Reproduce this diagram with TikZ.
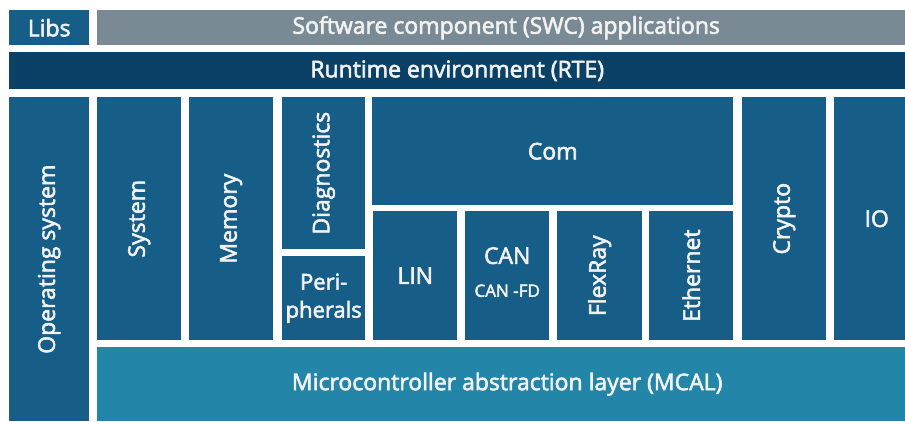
\documentclass[tikz,border=0pt]{standalone}
\usepackage{fontspec}
\setmainfont{Open Sans}[FakeBold=2.5]
\definecolor{modblue}{RGB}{22,94,135}
\definecolor{rteblue}{RGB}{11,65,102}
\definecolor{swcgray}{RGB}{122,138,148}
\definecolor{mcalblue}{RGB}{35,134,168}
\definecolor{txt}{RGB}{242,242,242}
\begin{document}
\begin{tikzpicture}[x=1pt,y=-1pt,
  blk/.style={fill=modblue,draw=none,inner sep=0pt,anchor=north west},
  lbl/.style={text=txt,font=\fontsize{23}{27}\selectfont,align=center,inner sep=0pt}]
\fill[white] (0,0) rectangle (905,421);
\useasboundingbox (0,0) rectangle (905,421);
% helper: block by corners
\newcommand{\blkbox}[6]{%
  \node[blk,fill=#6,minimum width={#3-#1},minimum height={#4-#2}] (#5) at (#1,#2) {};}
\blkbox{9}{10}{89}{45}{libs}{modblue}
\blkbox{97}{10}{905}{45}{swc}{swcgray}
\blkbox{9}{52}{905}{89}{rte}{rteblue}
\blkbox{9}{97}{89}{421}{os}{modblue}
\blkbox{97}{97}{181}{340}{sys}{modblue}
\blkbox{189}{97}{273}{340}{mem}{modblue}
\blkbox{282}{97}{365}{249}{diag}{modblue}
\blkbox{282}{256}{365}{340}{peri}{modblue}
\blkbox{372}{97}{733}{205}{com}{modblue}
\blkbox{373}{211}{457}{340}{lin}{modblue}
\blkbox{465}{211}{549}{340}{can}{modblue}
\blkbox{557}{211}{642}{340}{flex}{modblue}
\blkbox{649}{211}{733}{340}{eth}{modblue}
\blkbox{742}{97}{826}{340}{crypto}{modblue}
\blkbox{834}{97}{905}{340}{io}{modblue}
\blkbox{97}{347}{905}{421}{mcal}{mcalblue}
% labels
\node[lbl] (tlibs) at (libs.center) {Libs};
\node[lbl] (tswc) at ([xshift=5]swc.center) {Software component (SWC) applications};
\node[lbl] (trte) at (rte.center) {Runtime environment (RTE)};
\node[lbl,rotate=90] (tos) at (os.center) {Operating system};
\node[lbl,rotate=90] (tsys) at (sys.center) {System};
\node[lbl,rotate=90] (tmem) at (mem.center) {Memory};
\node[lbl,rotate=90] (tdiag) at (diag.center) {Diagnostics};
\node[lbl,font=\fontsize{22}{28}\selectfont] (tperi) at (peri.center) {Peri-\\pherals};
\node[lbl] (tcom) at (com.center) {Com};
\node[lbl] (tlin) at (lin.center) {LIN};
\node[lbl] (tcan) at ([yshift=20]can.center) {CAN};
\node[lbl,font=\fontsize{17}{20}\selectfont] (tcanfd) at ([yshift=-15]can.center) {CAN -FD};
\node[lbl,rotate=90] (tflex) at (flex.center) {FlexRay};
\node[lbl,rotate=90] (teth) at (eth.center) {Ethernet};
\node[lbl,rotate=90] (tcrypto) at (crypto.center) {Crypto};
\node[lbl] (tio) at ([xshift=7]io.center) {IO};
\node[lbl] (tmcal) at ([xshift=6]mcal.center) {Microcontroller abstraction layer (MCAL)};
\end{tikzpicture}
\end{document}
